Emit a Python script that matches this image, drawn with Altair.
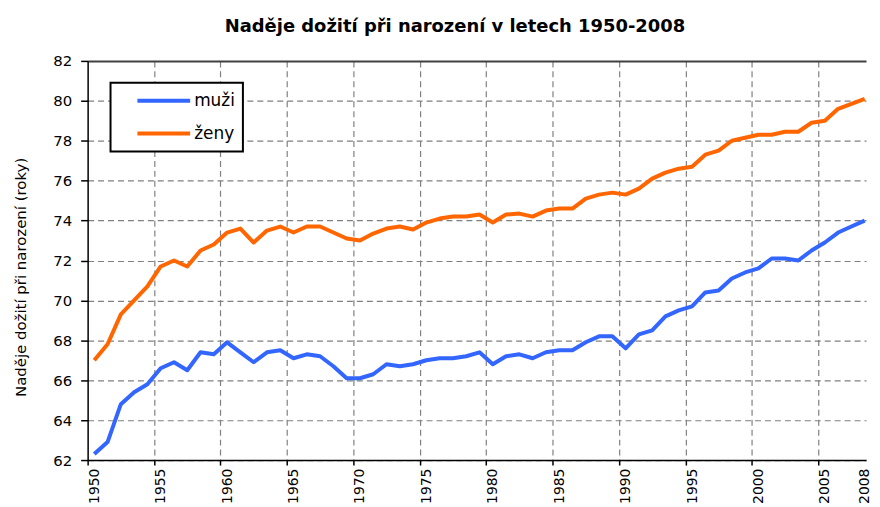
import altair as alt
import pandas as pd

# ---- data ----
years = list(range(1950, 2009))
muzi = [62.3, 62.9, 64.8, 65.4, 65.8, 66.6, 66.9, 66.5, 67.4, 67.3,
        67.9, 67.4, 66.9, 67.4, 67.5, 67.1, 67.3, 67.2, 66.7, 66.1,
        66.1, 66.3, 66.8, 66.7, 66.8, 67.0, 67.1, 67.1, 67.2, 67.4,
        66.8, 67.2, 67.3, 67.1, 67.4, 67.5, 67.5, 67.9, 68.2, 68.2,
        67.6, 68.3, 68.5, 69.2, 69.5, 69.7, 70.4, 70.5, 71.1, 71.4,
        71.6, 72.1, 72.1, 72.0, 72.5, 72.9, 73.4, 73.7, 74.0]
zeny = [67.0, 67.8, 69.3, 70.0, 70.7, 71.7, 72.0, 71.7, 72.5, 72.8,
        73.4, 73.6, 72.9, 73.5, 73.7, 73.4, 73.7, 73.7, 73.4, 73.1,
        73.0, 73.35, 73.6, 73.7, 73.55, 73.9, 74.1, 74.2, 74.2, 74.3,
        73.9, 74.3, 74.35, 74.2, 74.5, 74.6, 74.6, 75.1, 75.3, 75.4,
        75.3, 75.6, 76.1, 76.4, 76.6, 76.7, 77.3, 77.5, 78.0, 78.15,
        78.3, 78.3, 78.45, 78.45, 78.9, 79.0, 79.6, 79.85, 80.1]
series_names = ["muži", "ženy"]
series_colors = ["#3366ff", "#ff6600"]
chart_title = "Naděje dožití při narození v letech 1950-2008"
y_title = "Naděje dožití při narození (roky)"
y_ticks = list(range(62, 84, 2))
x_ticks = [1949.5 + 5 * k for k in range(12)] + [2007.5]

df = pd.DataFrame({
    "rok": years + years,
    "hodnota": muzi + zeny,
    "pohlavi": [series_names[0]] * len(years) + [series_names[1]] * len(years),
})

FONT = "DejaVu Sans"

x_axis = alt.Axis(
    values=x_ticks,
    labelExpr="format(datum.value + 0.5, 'd')",
    labelOffset=6.7,
    labelAngle=270,
    labelFont=FONT,
    labelFontSize=14,
    labelColor="black",
    labelPadding=3,
    labelFlush=False,
    labelOverlap=False,
    tickSize=5,
    tickColor="black",
    tickWidth=1.5,
    tickOpacity={"condition": {"test": "datum.value > 2006", "value": 0}, "value": 1},
    grid=True,
    gridColor="#808080",
    gridDash=[6, 4],
    gridWidth=1.2,
    gridOpacity={"condition": {"test": "datum.value < 1950 || datum.value > 2006", "value": 0}, "value": 1},
    domainColor="black",
    domainWidth=1.5,
    title=None,
)

y_axis = alt.Axis(
    values=y_ticks,
    format="d",
    labelFont=FONT,
    labelFontSize=15,
    labelColor="black",
    labelPadding=9,
    tickSize=7,
    tickColor="black",
    tickWidth=1.5,
    grid=True,
    gridColor={"condition": {"test": "datum.value == 82", "value": "#404040"}, "value": "#808080"},
    gridDash={"condition": {"test": "datum.value == 82", "value": []}, "value": [6, 4]},
    gridWidth={"condition": {"test": "datum.value == 82", "value": 2}, "value": 1.2},
    domainColor="black",
    domainWidth=1.5,
    title=y_title,
    titleFont=FONT,
    titleFontSize=15,
    titleFontWeight="normal",
    titleColor="black",
    titlePadding=24,
    titleY=217,
)

legend = alt.Legend(
    title=None,
    orient="none",
    legendX=23,
    legendY=22,
    symbolType="stroke",
    symbolSize=2809,
    symbolStrokeWidth=4,
    clipHeight=20,
    rowPadding=13,
    padding=8,
    symbolOffset=17,
    labelOffset=2,
    labelFont=FONT,
    labelFontSize=17,
    labelColor="black",
    labelExpr="datum.label + '           '",
    strokeColor="black",
    fillColor="white",
)

chart = (
    alt.Chart(df)
    .mark_line(strokeWidth=4, strokeJoin="round")
    .encode(
        x=alt.X("rok:Q", scale=alt.Scale(domain=[1949.5, 2008.1], nice=False, zero=False), axis=x_axis),
        y=alt.Y("hodnota:Q", scale=alt.Scale(domain=[62, 82], nice=False, zero=False), axis=y_axis),
        color=alt.Color("pohlavi:N", scale=alt.Scale(domain=series_names, range=series_colors), legend=legend),
    )
    .properties(
        width=782,
        height=401,
        padding={"left": 5, "top": 9, "right": 0, "bottom": 0},
        title=alt.TitleParams(
            text=chart_title,
            font=FONT,
            fontSize=18,
            fontWeight="bold",
            color="black",
            anchor="middle",
            dx=-22,
            offset=18,
        ),
    )
    .configure(background="white")
    .configure_view(stroke=None)
    .configure_legend(strokeWidth=2)
)

chart.save("out.html", embed_options={"renderer": "svg", "actions": False})
